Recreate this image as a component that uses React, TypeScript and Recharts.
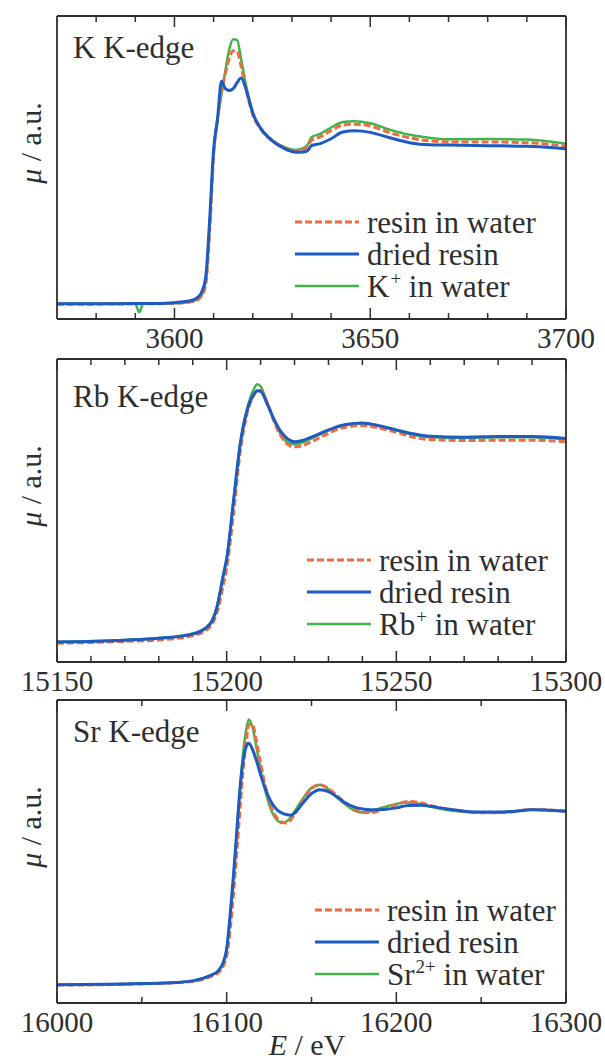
import { LineChart, Line, XAxis, YAxis } from "recharts";

// K K-edge
const kEnergy = [3570, 3580, 3590, 3591, 3592, 3593, 3600, 3604, 3606, 3607, 3608, 3609, 3610, 3611, 3612, 3613, 3614, 3615, 3616, 3617, 3618, 3619, 3620, 3622, 3625, 3628, 3631, 3633, 3634, 3635, 3637, 3640, 3643, 3646, 3650, 3655, 3660, 3665, 3670, 3680, 3690, 3700];
const kResin = [4.9, 4.9, 5.0, 5.0, 5.0, 5.0, 5.2, 5.6, 6.4, 7.8, 11.5, 29, 54, 66, 75, 81, 86, 88.5, 88.3, 83.5, 77.5, 72, 67.5, 62.7, 58.8, 56.5, 55.3, 56, 57, 59, 60, 62.2, 64, 64.3, 63.7, 61.5, 59.8, 58.8, 58.4, 58.4, 58.2, 57];
const kDried = [5.0, 5.0, 5.1, 5.1, 5.1, 5.1, 5.4, 6.0, 7.2, 9, 14, 33, 56, 66, 78.5, 76, 75.4, 76, 78, 79.5, 77, 72.5, 68, 63, 58.8, 56.3, 55, 55.1, 55.6, 57.2, 57.8, 59.5, 61.7, 62.1, 61.6, 59.8, 58.2, 57.5, 57.4, 57.2, 57, 56.2];
const kIon = [5.0, 5.0, 5.0, 2.2, 5.0, 5.0, 5.2, 5.7, 6.6, 8.2, 12.5, 31, 55, 66, 74, 82, 89, 92.3, 92.0, 86, 79, 73, 68, 63, 59, 56.8, 55.8, 56.5, 57.5, 60, 61, 63.2, 65, 65.3, 64.6, 62.5, 60.8, 59.8, 59.3, 59.4, 59.2, 57.8];
const kTicks = [3580, 3590, 3600, 3610, 3620, 3630, 3640, 3650, 3660, 3670, 3680, 3690, 3700];
const kMajor = [3600, 3650, 3700];

// Rb K-edge
const rbEnergy = [15150, 15170, 15180, 15190, 15195, 15197, 15199, 15200, 15202, 15204, 15206, 15208, 15209, 15210, 15212, 15214, 15216, 15218, 15220, 15222, 15225, 15230, 15235, 15240, 15245, 15250, 15255, 15260, 15270, 15280, 15290, 15300];
const rbResin = [6.2, 6.8, 7.3, 8.7, 11.5, 15.8, 25.5, 31, 49, 69.5, 82, 88, 89.5, 89.6, 85.5, 79.3, 74.6, 71.8, 71, 71.3, 72.7, 75.5, 77.5, 78, 77.2, 75.8, 74.2, 73.4, 73.1, 73.2, 73.2, 72.7];
const rbDried = [6.6, 7.2, 7.8, 9.2, 12.4, 17.5, 28.5, 34, 53, 72, 83, 88.3, 89.5, 89.3, 85, 80, 76, 73.6, 72.7, 73, 74.2, 76.6, 78.4, 78.9, 78, 76.6, 75.3, 74.5, 74.2, 74.4, 74.4, 73.8];
const rbIon = [6.7, 7.3, 7.9, 9.4, 12.6, 17.8, 28.8, 34.3, 53, 72, 83.5, 90, 91.7, 91, 85.5, 79.6, 75, 72.5, 71.9, 72.3, 73.8, 76.4, 78.2, 78.6, 77.8, 76.4, 75, 74.2, 74, 74.2, 74.2, 73.5];
const rbTicks = [15150, 15160, 15170, 15180, 15190, 15200, 15210, 15220, 15230, 15240, 15250, 15260, 15270, 15280, 15290, 15300];
const rbMajor = [15150, 15200, 15250, 15300];

// Sr K-edge
const srEnergy = [16000, 16050, 16070, 16080, 16090, 16095, 16098, 16100, 16102, 16104, 16106, 16108, 16110, 16112, 16113, 16115, 16118, 16120, 16123, 16126, 16130, 16133, 16135, 16138, 16140, 16145, 16150, 16155, 16160, 16165, 16170, 16175, 16180, 16185, 16190, 16200, 16207, 16215, 16220, 16230, 16240, 16250, 16260, 16270, 16280, 16290, 16300];
const srResin = [5.9, 6.3, 6.7, 7.1, 8.6, 10, 12.2, 15.5, 24, 36, 50, 65, 79, 88.5, 91.8, 92, 85, 79, 71, 65, 60.8, 59.6, 59.4, 60.6, 62.3, 67, 70.8, 72, 70.8, 68.5, 66, 64, 63, 62.8, 63.5, 65.5, 66.5, 66, 65.2, 64, 63.2, 62.8, 62.8, 63.2, 63.9, 63.7, 63.3];
const srDried = [6.0, 6.4, 6.8, 7.3, 9, 10.6, 13.4, 17.8, 28.7, 42, 57, 71.5, 81, 85.2, 85.7, 84, 79.2, 75.3, 70.4, 66.6, 63.6, 62.6, 62.2, 62, 62.7, 66, 69.1, 70.4, 69.8, 68, 66, 64.7, 64, 63.8, 63.8, 64.4, 65.2, 65.3, 64.9, 64, 63.3, 63, 63, 63.3, 63.8, 63.6, 63.3];
const srIon = [6.0, 6.4, 6.8, 7.3, 9, 10.6, 13.4, 17.5, 28, 41, 56, 72, 84, 91.5, 93.6, 91.5, 83, 77, 69.5, 64, 60.2, 59.4, 59.8, 61.5, 63.2, 67.5, 71, 72, 70.5, 68, 65.5, 63.6, 62.9, 63.3, 64.2, 65.7, 66.2, 65.6, 64.8, 63.7, 63.1, 62.9, 62.9, 63.3, 63.9, 63.6, 63.3];
const srTicks = [16050, 16100, 16150, 16200, 16250, 16300];
const srMajor = [16000, 16100, 16200, 16300];

const SERIF = '"Liberation Serif", "Times New Roman", serif';
const INK = "#2e2e2e";
const RED = "#f26a3f";
const BLUE = "#1c5bc4";
const GREEN = "#3fb44b";

const toRows = (energy: number[], resin: number[], dried: number[], ion: number[]) =>
  energy.map((e, i) => ({ e, resin: resin[i], dried: dried[i], ion: ion[i] }));

const bottomTick = (majors: number[]) => (props: any) => {
  const { x, y, payload } = props;
  const major = majors.includes(payload.value);
  return (
    <g>
      <line x1={x} x2={x} y1={y} y2={y - (major ? 11 : 6)} stroke={INK} strokeWidth={1.5} />
      {major && (
        <text x={x} y={y + 29} textAnchor="middle" fontFamily={SERIF} fontSize={29} fill={INK}>
          {payload.value}
        </text>
      )}
    </g>
  );
};

const topTick = (majors: number[]) => (props: any) => {
  const { x, y, payload } = props;
  const major = majors.includes(payload.value);
  return <line x1={x} x2={x} y1={y} y2={y + (major ? 11 : 6)} stroke={INK} strokeWidth={1.5} />;
};

interface PanelProps {
  top: number;
  height: number;
  plotTop: number;
  plotBottom: number;
  data: { e: number; resin: number; dried: number; ion: number }[];
  domain: [number, number];
  ticks: number[];
  majors: number[];
  title: string;
  titleY: number;
  ion: string;
  charge: string;
  legendX: number;
  legendY: number;
  showXLabel?: boolean;
}

function Panel(p: PanelProps) {
  const allTicks = Array.from(new Set([...p.ticks, ...p.majors])).sort((a, b) => a - b);
  const legend = [
    { key: "resin", color: RED, width: 3, dash: "7 3" },
    { key: "dried", color: BLUE, width: 3, dash: undefined },
    { key: "ion", color: GREEN, width: 2.5, dash: undefined },
  ];
  return (
    <div style={{ position: "absolute", left: 0, top: p.top }}>
      <LineChart
        width={605}
        height={p.height}
        data={p.data}
        margin={{ top: p.plotTop - 1, right: 38, left: 56, bottom: p.height - p.plotBottom - 1 }}
      >
        <XAxis
          dataKey="e"
          type="number"
          domain={p.domain}
          allowDataOverflow
          ticks={allTicks}
          interval={0}
          tickSize={0}
          tickMargin={0}
          tickLine={false}
          height={1}
          axisLine={{ stroke: INK, strokeWidth: 1.8 }}
          tick={bottomTick(p.majors)}
        />
        <XAxis
          xAxisId="top"
          orientation="top"
          dataKey="e"
          type="number"
          domain={p.domain}
          allowDataOverflow
          ticks={allTicks}
          interval={0}
          tickSize={0}
          tickMargin={0}
          tickLine={false}
          height={1}
          axisLine={{ stroke: INK, strokeWidth: 1.8 }}
          tick={topTick(p.majors)}
        />
        <YAxis
          yAxisId="l"
          domain={[0, 100]}
          allowDataOverflow
          width={1}
          tick={false}
          tickLine={false}
          axisLine={{ stroke: INK, strokeWidth: 1.8 }}
        />
        <YAxis
          yAxisId="r"
          orientation="right"
          domain={[0, 100]}
          width={1}
          tick={false}
          tickLine={false}
          axisLine={{ stroke: INK, strokeWidth: 1.8 }}
        />
        <Line yAxisId="l" type="monotone" dataKey="ion" stroke={GREEN} strokeWidth={2.5} dot={false} isAnimationActive={false} />
        <Line yAxisId="l" type="monotone" dataKey="resin" stroke={RED} strokeWidth={3} strokeDasharray="7 3" dot={false} isAnimationActive={false} />
        <Line yAxisId="l" type="monotone" dataKey="dried" stroke={BLUE} strokeWidth={3} dot={false} isAnimationActive={false} />

        <text x={73} y={p.titleY} fontFamily={SERIF} fontSize={31} fill={INK}>
          {p.title}
        </text>

        {legend.map((row, i) => {
          const cy = p.legendY + i * 32;
          return (
            <g key={row.key}>
              <line
                x1={p.legendX}
                x2={p.legendX + 64}
                y1={cy}
                y2={cy}
                stroke={row.color}
                strokeWidth={row.width}
                strokeDasharray={row.dash}
              />
              <text x={p.legendX + 72} y={cy + 11} fontFamily={SERIF} fontSize={31} fill={INK} xmlSpace="preserve">
                {row.key === "resin" && "resin in water"}
                {row.key === "dried" && "dried resin"}
                {row.key === "ion" && (
                  <>
                    {p.ion}
                    <tspan dx={1} dy={-12} fontSize={19}>
                      {p.charge}
                    </tspan>
                    <tspan dy={12}>{" in water"}</tspan>
                  </>
                )}
              </text>
            </g>
          );
        })}

        <text
          transform={`translate(30, ${p.plotTop + 127}) rotate(-90)`}
          textAnchor="middle"
          dominantBaseline="central"
          fontFamily={SERIF}
          fontSize={30}
          fill={INK}
        >
          <tspan fontStyle="italic">μ</tspan> / a.u.
        </text>

        {p.showXLabel && (
          <text x={307} y={p.plotBottom + 52} textAnchor="middle" fontFamily={SERIF} fontSize={30} fill={INK}>
            <tspan fontStyle="italic">E</tspan> / eV
          </text>
        )}
      </LineChart>
    </div>
  );
}

export default function App() {
  return (
    <div style={{ position: "absolute", left: 0, top: 0, width: 605, height: 1062, background: "#ffffff" }}>
      <Panel
        top={0}
        height={365}
        plotTop={16}
        plotBottom={319}
        data={toRows(kEnergy, kResin, kDried, kIon)}
        domain={[3570, 3700]}
        ticks={kTicks}
        majors={kMajor}
        title="K K-edge"
        titleY={58}
        ion="K"
        charge="+"
        legendX={295}
        legendY={222}
      />
      <Panel
        top={340}
        height={370}
        plotTop={19}
        plotBottom={322}
        data={toRows(rbEnergy, rbResin, rbDried, rbIon)}
        domain={[15150, 15300]}
        ticks={rbTicks}
        majors={rbMajor}
        title="Rb K-edge"
        titleY={67}
        ion="Rb"
        charge="+"
        legendX={307}
        legendY={220}
      />
      <Panel
        top={680}
        height={382}
        plotTop={20}
        plotBottom={323}
        data={toRows(srEnergy, srResin, srDried, srIon)}
        domain={[16000, 16300]}
        ticks={srTicks}
        majors={srMajor}
        title="Sr K-edge"
        titleY={62}
        ion="Sr"
        charge="2+"
        legendX={315}
        legendY={230}
        showXLabel
      />
    </div>
  );
}
